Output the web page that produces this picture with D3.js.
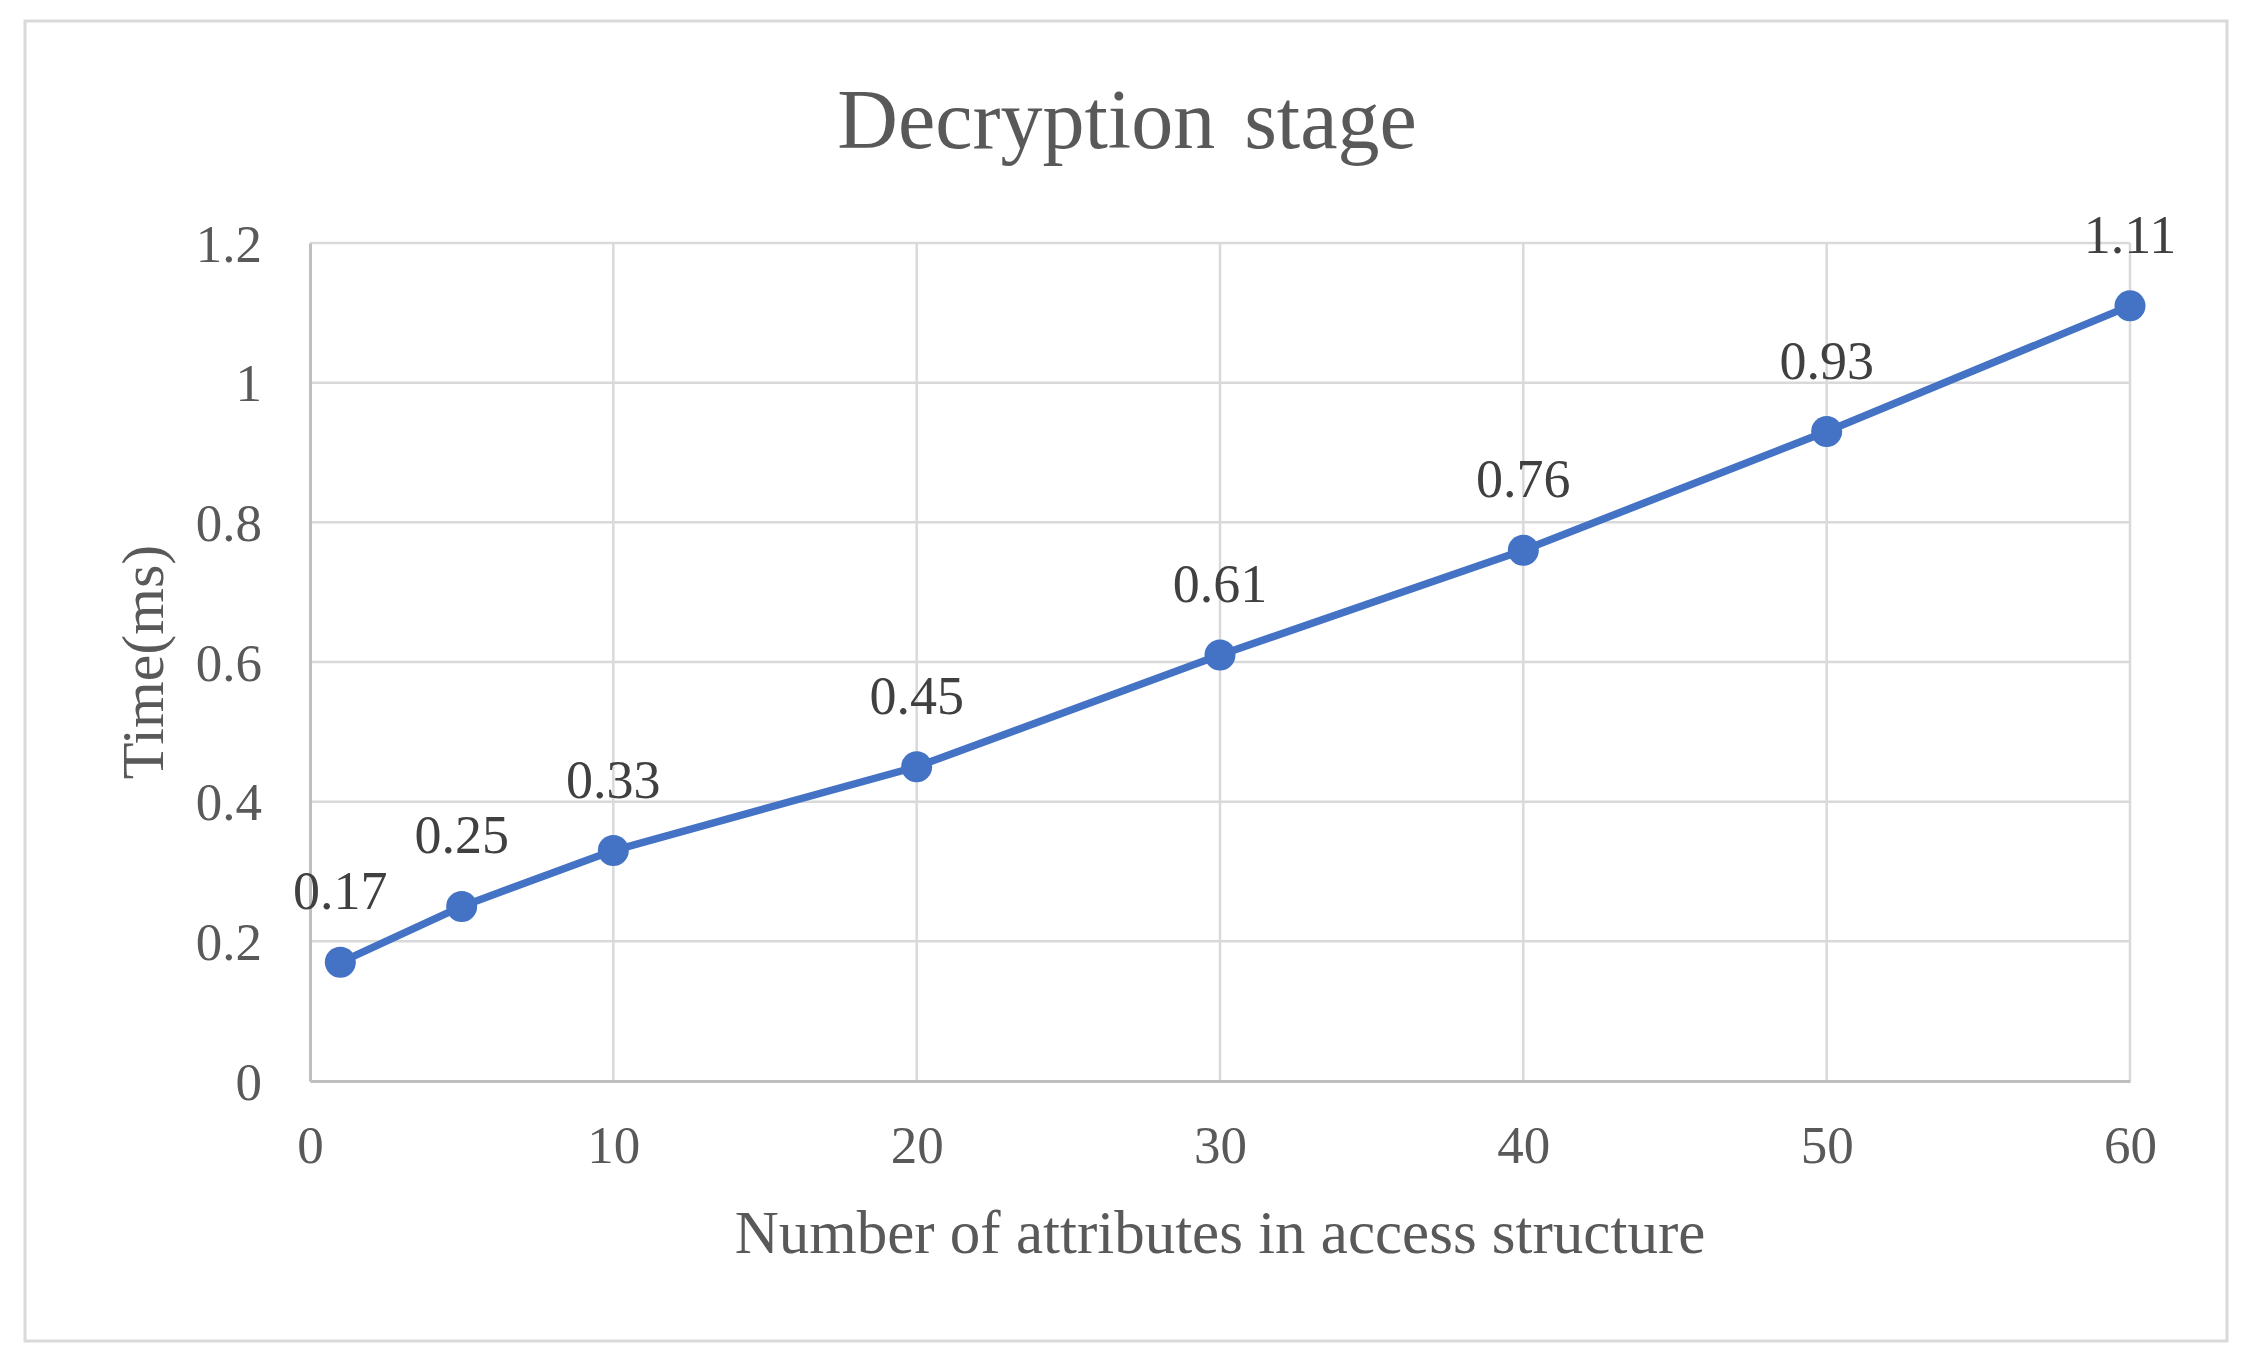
<!DOCTYPE html>
<html>
<head>
<meta charset="utf-8">
<script src="https://cdn.jsdelivr.net/npm/d3@7"></script>
<style>
  html, body { margin: 0; padding: 0; background: #ffffff; }
  svg { display: block; }
  text { font-family: "Liberation Serif", "Times New Roman", serif; }
</style>
</head>
<body>
<svg id="chart" width="2248" height="1370"></svg>
<script>
// ---- data ----
const chartTitle = "Decryption stage";
const xTitle = "Number of attributes in access structure";
const yTitle = "Time(ms)";
const xValues = [1, 5, 10, 20, 30, 40, 50, 60];
const timeValues = [0.17, 0.25, 0.33, 0.45, 0.61, 0.76, 0.93, 1.11];
const dataLabels = ["0.17", "0.25", "0.33", "0.45", "0.61", "0.76", "0.93", "1.11"];
const xTicks = [0, 10, 20, 30, 40, 50, 60];
const yTicks = [0, 0.2, 0.4, 0.6, 0.8, 1.0, 1.2];
const yTickLabels = ["0", "0.2", "0.4", "0.6", "0.8", "1", "1.2"];

// ---- layout ----
const W = 2248, H = 1370;
const plot = { left: 310, right: 2130, top: 243, bottom: 1081 };
const svg = d3.select("#chart");

svg.append("rect").attr("x", 0).attr("y", 0).attr("width", W).attr("height", H).attr("fill", "#fff");
// outer chart border
svg.append("rect")
  .attr("x", 25).attr("y", 21).attr("width", 2202).attr("height", 1320)
  .attr("fill", "none").attr("stroke", "#d9d9d9").attr("stroke-width", 3);

const x = d3.scaleLinear().domain([0, 60]).range([plot.left, plot.right]);
const y = d3.scaleLinear().domain([0, 1.2]).range([plot.bottom, plot.top]);

// gridlines
const grid = svg.append("g");
grid.selectAll("line.h").data(yTicks.filter(d => d > 0)).join("line")
  .attr("x1", plot.left).attr("x2", plot.right)
  .attr("y1", d => y(d)).attr("y2", d => y(d))
  .attr("stroke", "#d9d9d9").attr("stroke-width", 2.5);
grid.selectAll("line.v").data(xTicks.filter(d => d > 0)).join("line")
  .attr("y1", plot.top).attr("y2", plot.bottom)
  .attr("x1", d => x(d)).attr("x2", d => x(d))
  .attr("stroke", "#d9d9d9").attr("stroke-width", 2.5);

// axes (via d3 axis generators, styled)
const xAxis = svg.append("g").attr("transform", `translate(0,${plot.bottom})`)
  .call(d3.axisBottom(x).tickValues(xTicks).tickSize(0).tickPadding(0).tickFormat(d3.format("d")));
xAxis.select(".domain").attr("stroke", "#bfbfbf").attr("stroke-width", 3);
xAxis.selectAll("text")
  .attr("y", 82).attr("dy", null)
  .attr("fill", "#595959").attr("font-size", 53)
  .attr("font-family", "Liberation Serif");

const yAxis = svg.append("g").attr("transform", `translate(${plot.left},0)`)
  .call(d3.axisLeft(y).tickValues(yTicks).tickSize(0).tickPadding(0)
    .tickFormat((d, i) => yTickLabels[i]));
yAxis.select(".domain").attr("stroke", "#bfbfbf").attr("stroke-width", 3);
yAxis.selectAll("text")
  .attr("x", -48).attr("dy", "0.34em")
  .attr("fill", "#595959").attr("font-size", 53)
  .attr("font-family", "Liberation Serif");

// series line
const pts = xValues.map((v, i) => [v, timeValues[i]]);
svg.append("path")
  .datum(pts)
  .attr("fill", "none")
  .attr("stroke", "#4472c4")
  .attr("stroke-width", 7.5)
  .attr("stroke-linejoin", "round")
  .attr("d", d3.line().x(d => x(d[0])).y(d => y(d[1])));

svg.append("g").selectAll("circle").data(pts).join("circle")
  .attr("cx", d => x(d[0])).attr("cy", d => y(d[1])).attr("r", 15.5)
  .attr("fill", "#4472c4");

// data labels
svg.append("g").selectAll("text").data(pts).join("text")
  .attr("x", d => x(d[0])).attr("y", d => y(d[1]) - 53)
  .attr("text-anchor", "middle")
  .attr("fill", "#404040").attr("font-size", 54)
  .text((d, i) => dataLabels[i]);

// titles
svg.append("text")
  .attr("x", 1127).attr("y", 148)
  .attr("text-anchor", "middle")
  .attr("fill", "#595959").attr("font-size", 84)
  .attr("word-spacing", 8)
  .text(chartTitle);

svg.append("text")
  .attr("x", (plot.left + plot.right) / 2).attr("y", 1253)
  .attr("text-anchor", "middle")
  .attr("fill", "#595959").attr("font-size", 61)
  .text(xTitle);

svg.append("text")
  .attr("transform", `translate(163,${(plot.top + plot.bottom) / 2}) rotate(-90)`)
  .attr("text-anchor", "middle")
  .attr("fill", "#595959").attr("font-size", 60)
  .text(yTitle);
</script>
</body>
</html>
